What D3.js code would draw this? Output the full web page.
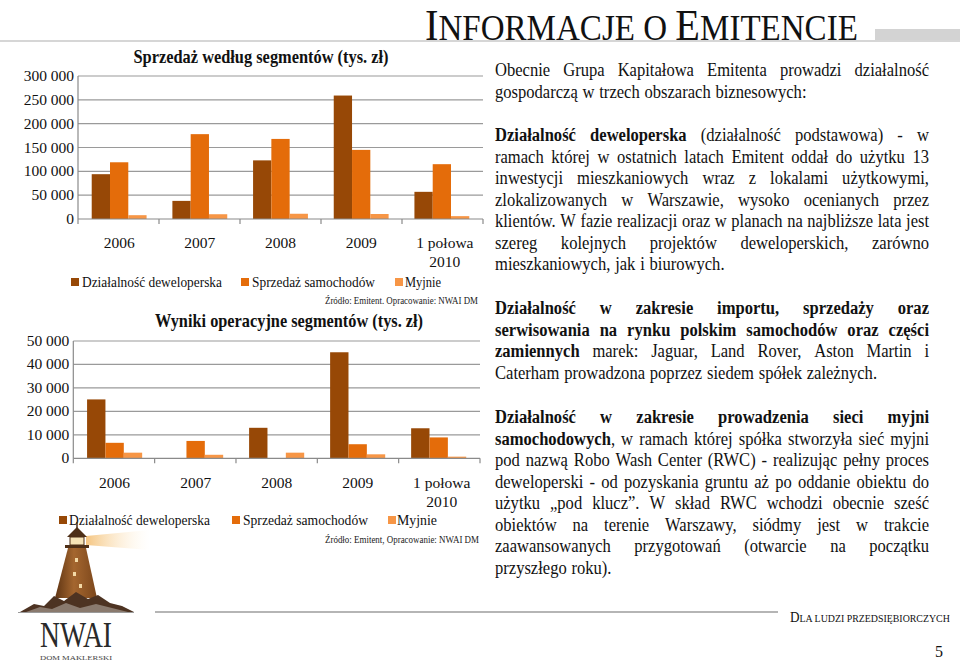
<!DOCTYPE html>
<html><head><meta charset="utf-8">
<script src="https://cdn.jsdelivr.net/npm/d3@7/dist/d3.min.js"></script>
<style>body{margin:0;background:#fff}svg{display:block}svg text{font-family:"Liberation Serif","Times New Roman",serif}</style>
</head><body>
<svg id="c" width="960" height="661"></svg>
<script>
// ---------- DATA ----------
const categories = [["2006"], ["2007"], ["2008"], ["2009"], ["1 połowa", "2010"]];
const seriesNames = ["Działalność deweloperska", "Sprzedaż samochodów", "Myjnie"];
const seriesColors = ["#974806", "#E46C0A", "#F79646"];
// Sprzedaż według segmentów (tys. zł)
const salesDev  = [94000, 38000, 123000, 259000, 57000];
const salesCars = [119000, 178000, 168000, 145000, 115000];
const salesWash = [8000, 10000, 11000, 10500, 6000];
const salesTicks = [0, 50000, 100000, 150000, 200000, 250000, 300000];
// Wyniki operacyjne segmentów (tys. zł)
const opDev  = [25100, -300, 13000, 45200, 12800];
const opCars = [6600, 7400, 0, 6000, 8900];
const opWash = [2400, 1500, 2400, 1700, 700];
const opTicks = [0, 10000, 20000, 30000, 40000, 50000];

const svg = d3.select("#c");
const fmt = d3.formatLocale({decimal: ",", thousands: " ", grouping: [3], currency: ["", " zł"]}).format(",d");

function fit(sel, w) { return sel.attr("textLength", w).attr("lengthAdjust", "spacingAndGlyphs"); }
// small-caps style text: one text element with tspans, squeezed horizontally to a total width
function smallCaps(pieces, x, y, total, fill) {
  const t = svg.append("text").attr("x", 0).attr("y", 0).attr("fill", fill).style("white-space", "pre");
  pieces.forEach(([s, fs]) => t.append("tspan").attr("font-size", fs).text(s));
  const w = t.node().getComputedTextLength();
  t.attr("transform", `translate(${x},${y}) scale(${total / w},1)`);
}

// ---------- HEADER ----------
svg.append("rect").attr("x", 875).attr("y", 29).attr("width", 85).attr("height", 11).attr("fill", "#d3d3d3");
svg.append("line").attr("x1", 0).attr("x2", 960).attr("y1", 41).attr("y2", 41).attr("stroke", "#d6d6d6").attr("stroke-width", 2);
smallCaps([["I", 44], ["NFORMACJE O ", 36], ["E", 44], ["MITENCIE", 36]], 425, 39.5, 433, "#111");

// ---------- CHARTS ----------
function drawChart(cfg) {
  const g = svg.append("g");
  const vals = [cfg.dev, cfg.cars, cfg.wash];
  const x0 = d3.scaleBand().domain(d3.range(categories.length)).range([cfg.left, cfg.right])
    .paddingInner(0.32).paddingOuter(0.17);
  const x1 = d3.scaleBand().domain(d3.range(3)).range([0, x0.bandwidth()]);
  const y = d3.scaleLinear().domain([0, cfg.ticks[cfg.ticks.length - 1]]).range([cfg.bottom, cfg.top]);
  const step = (cfg.right - cfg.left) / categories.length;

  g.append("g").selectAll("line").data(cfg.ticks.slice(1)).join("line")
    .attr("x1", cfg.left).attr("x2", cfg.right).attr("y1", d => y(d)).attr("y2", d => y(d))
    .attr("stroke", "#9a9a9a").attr("stroke-width", 1.2);
  g.append("g").selectAll("text").data(cfg.ticks).join("text")
    .attr("x", cfg.left - 4).attr("y", d => y(d) + 5).attr("text-anchor", "end")
    .attr("font-size", 15.5).attr("fill", "#111").text(d => fmt(d));
  const groups = g.append("g").selectAll("g").data(categories.map((c, i) => i)).join("g")
    .attr("transform", i => `translate(${x0(i)},0)`);
  groups.selectAll("rect").data(i => vals.map((s, k) => ({k, v: s[i]}))).join("rect")
    .attr("x", d => x1(d.k)).attr("width", x1.bandwidth())
    .attr("y", d => Math.min(y(d.v), y(0))).attr("height", d => Math.abs(y(d.v) - y(0)))
    .attr("fill", d => seriesColors[d.k]);
  g.append("line").attr("x1", cfg.left).attr("x2", cfg.left).attr("y1", cfg.top).attr("y2", cfg.bottom)
    .attr("stroke", "#8a8a8a").attr("stroke-width", 1.2);
  g.append("line").attr("x1", cfg.left).attr("x2", cfg.right).attr("y1", y(0)).attr("y2", y(0))
    .attr("stroke", "#8a8a8a").attr("stroke-width", 1.2);
  g.append("g").selectAll("line").data(d3.range(categories.length + 1)).join("line")
    .attr("x1", i => cfg.left + i * step).attr("x2", i => cfg.left + i * step)
    .attr("y1", y(0)).attr("y2", y(0) + 5).attr("stroke", "#8a8a8a").attr("stroke-width", 1.2);
  categories.forEach((lines, i) => {
    lines.forEach((t, j) => {
      g.append("text").attr("x", x0(i) + x0.bandwidth() / 2 + (lines.length > 1 ? 3 : 0))
        .attr("y", cfg.labelY + j * 19).attr("text-anchor", "middle")
        .attr("font-size", 15.5).attr("fill", "#111").text(t);
    });
  });
  fit(g.append("text").attr("x", cfg.titleX).attr("y", cfg.titleY).attr("text-anchor", "middle")
    .attr("font-size", 19).attr("font-weight", "bold").attr("fill", "#111").text(cfg.title), cfg.titleW);
  seriesNames.forEach((n, k) => {
    const it = cfg.legend[k];
    g.append("rect").attr("x", it[0]).attr("y", cfg.legendY - 4).attr("width", 8).attr("height", 8)
      .attr("fill", seriesColors[k]);
    fit(g.append("text").attr("x", it[1]).attr("y", cfg.legendY + 5).attr("font-size", 15)
      .attr("fill", "#111").text(n), it[2]);
  });
  fit(g.append("text").attr("x", cfg.srcX).attr("y", cfg.srcY).attr("font-size", 10).attr("fill", "#222")
    .text(cfg.src), cfg.srcW);
}

drawChart({
  dev: salesDev, cars: salesCars, wash: salesWash, ticks: salesTicks,
  left: 78, right: 483, top: 76, bottom: 219, labelY: 248,
  title: "Sprzedaż według segmentów (tys. zł)", titleX: 261, titleY: 63, titleW: 255,
  legendY: 282, legend: [[71, 82, 140], [241, 252, 123], [395, 405, 36]],
  src: "Źródło: Emitent. Opracowanie: NWAI DM", srcX: 325, srcY: 304, srcW: 153
});
drawChart({
  dev: opDev, cars: opCars, wash: opWash, ticks: opTicks,
  left: 73.3, right: 480, top: 341, bottom: 458.3, labelY: 488,
  title: "Wyniki operacyjne segmentów (tys. zł)", titleX: 289, titleY: 327, titleW: 268,
  legendY: 520, legend: [[59, 69, 141], [232, 243, 125], [388, 397, 40]],
  src: "Źródło: Emitent, Opracowanie: NWAI DM", srcX: 325, srcY: 543, srcW: 154
});

// ---------- BODY TEXT ----------
const B = true, N = false;
const paragraphs = [
  {y: 76, lines: [
    [["Obecnie Grupa Kapitałowa Emitenta prowadzi działalność", N]],
    [["gospodarczą w trzech obszarach biznesowych:", N]]]},
  {y: 141, lines: [
    [["Działalność deweloperska", B], [" (działalność podstawowa) - w", N]],
    [["ramach której w ostatnich latach Emitent oddał do użytku 13", N]],
    [["inwestycji mieszkaniowych wraz z lokalami użytkowymi,", N]],
    [["zlokalizowanych w Warszawie, wysoko ocenianych przez", N]],
    [["klientów. W fazie realizacji oraz w planach na najbliższe lata jest", N]],
    [["szereg kolejnych projektów deweloperskich, zarówno", N]],
    [["mieszkaniowych, jak i biurowych.", N]]]},
  {y: 314, lines: [
    [["Działalność w zakresie importu, sprzedaży oraz", B]],
    [["serwisowania na rynku polskim samochodów oraz części", B]],
    [["zamiennych", B], [" marek: Jaguar, Land Rover, Aston Martin i", N]],
    [["Caterham prowadzona poprzez siedem spółek zależnych.", N]]]},
  {y: 423, lines: [
    [["Działalność w zakresie prowadzenia sieci myjni", B]],
    [["samochodowych", B], [", w ramach której spółka stworzyła sieć myjni", N]],
    [["pod nazwą Robo Wash Center (RWC) - realizując pełny proces", N]],
    [["deweloperski - od pozyskania gruntu aż po oddanie obiektu do", N]],
    [["użytku „pod klucz”. W skład RWC wchodzi obecnie sześć", N]],
    [["obiektów na terenie Warszawy, siódmy jest w trakcie", N]],
    [["zaawansowanych przygotowań (otwarcie na początku", N]],
    [["przyszłego roku).", N]]]}
];
const TX = 495, TR = 929, FS = 18.2, LH = 21.5, COND = 0.91;
const body = svg.append("g").attr("font-size", FS).attr("fill", "#111");
function addRuns(t, w) {
  w.forEach(([p, b]) => t.append("tspan").attr("font-weight", b ? "bold" : "normal").text(p));
}
function layoutLine(segs, y, justify) {
  const words = []; let cur = [];
  segs.forEach(([t, b]) => {
    t.split(" ").forEach((p, i) => {
      if (i > 0) { if (cur.length) words.push(cur); cur = []; }
      if (p) cur.push([p, b]);
    });
  });
  if (cur.length) words.push(cur);
  const ws = words.map(w => {
    const t = body.append("text"); addRuns(t, w);
    const v = t.node().getComputedTextLength(); t.remove(); return v;
  });
  const W = d3.sum(ws) * COND, gN = Math.max(1, words.length - 1), L = TR - TX;
  const minGap = 4.6, natGap = 4.8;
  let k = COND, gap = justify ? (L - W) / gN : natGap;
  if (gap < minGap || (!justify && W + gN * gap > L)) { gap = minGap; k = COND * (L - gN * gap) / W; }
  // one text element per line, squeezed by k; word starts placed in unscaled units
  const line = body.append("text").attr("transform", `translate(${TX},${y}) scale(${k},1)`);
  let x = 0;
  words.forEach((w, i) => {
    w.forEach(([p, b], j) => {
      const ts = line.append("tspan").attr("font-weight", b ? "bold" : "normal").text(p);
      if (j === 0) ts.attr("x", x / k).attr("y", 0);
    });
    x += ws[i] * k + gap;
  });
}
paragraphs.forEach(p => p.lines.forEach((ln, i) => layoutLine(ln, p.y + i * LH, i < p.lines.length - 1)));

// ---------- FOOTER ----------
svg.append("line").attr("x1", 155).attr("x2", 778).attr("y1", 612).attr("y2", 612).attr("stroke", "#9c9c9c").attr("stroke-width", 1.5);
smallCaps([["D", 14], ["LA LUDZI PRZEDSIĘBIORCZYCH", 10.5]], 790, 622, 160, "#111");
svg.append("text").attr("x", 943).attr("y", 657).attr("text-anchor", "end").attr("font-size", 16).attr("fill", "#111").text("5");

// logo
const defs = svg.append("defs");
const beam = defs.append("linearGradient").attr("id", "beam");
beam.append("stop").attr("offset", "0").attr("stop-color", "#f4c27a").attr("stop-opacity", 0.95);
beam.append("stop").attr("offset", "1").attr("stop-color", "#fff4df").attr("stop-opacity", 0);
const tower = defs.append("linearGradient").attr("id", "tower");
tower.append("stop").attr("offset", "0").attr("stop-color", "#5e3413");
tower.append("stop").attr("offset", "0.45").attr("stop-color", "#a4662f");
tower.append("stop").attr("offset", "1").attr("stop-color", "#7b461b");
const logo = svg.append("g");
logo.append("path").attr("d", "M86,536 L150,530 L150,550 L86,545 Z").attr("fill", "url(#beam)");
logo.append("path").attr("d", "M67,537 L77,527 L87,537 Z").attr("fill", "#4e2f17");
logo.append("line").attr("x1", 77).attr("x2", 77).attr("y1", 522).attr("y2", 528).attr("stroke", "#4e2f17").attr("stroke-width", 1.5);
logo.append("rect").attr("x", 70).attr("y", 537).attr("width", 14).attr("height", 8).attr("fill", "#f6e3b6").attr("stroke", "#4e2f17");
logo.append("rect").attr("x", 65).attr("y", 545).attr("width", 24).attr("height", 3).attr("fill", "#4e2f17");
logo.append("path").attr("d", "M68,548 L86,548 L97,598 L55,598 Z").attr("fill", "url(#tower)");
[[75, 558], [73, 572], [79, 584]].forEach(([x, y]) =>
  logo.append("rect").attr("x", x).attr("y", y).attr("width", 3).attr("height", 4).attr("fill", "#f3d9a6"));
logo.append("path").attr("d", "M20,612 L34,604 L44,606 L54,596 L64,601 L76,592 L88,599 L98,595 L110,603 L122,606 L134,612 Z").attr("fill", "#4d3322");
logo.append("path").attr("d", "M26,612 L40,607 L52,609 L66,603 L80,608 L96,604 L112,608 L128,612 Z").attr("fill", "#8a7a6e");
logo.append("line").attr("x1", 18).attr("x2", 134).attr("y1", 612.5).attr("y2", 612.5).attr("stroke", "#9a9a9a").attr("stroke-width", 1);
fit(svg.append("text").attr("x", 40).attr("y", 647).attr("font-size", 35).attr("fill", "#2a2a2a").text("NWAI"), 72);
fit(svg.append("text").attr("x", 40).attr("y", 660).attr("font-size", 6.5).attr("fill", "#444").text("DOM MAKLERSKI"), 72);
</script>
</body></html>
